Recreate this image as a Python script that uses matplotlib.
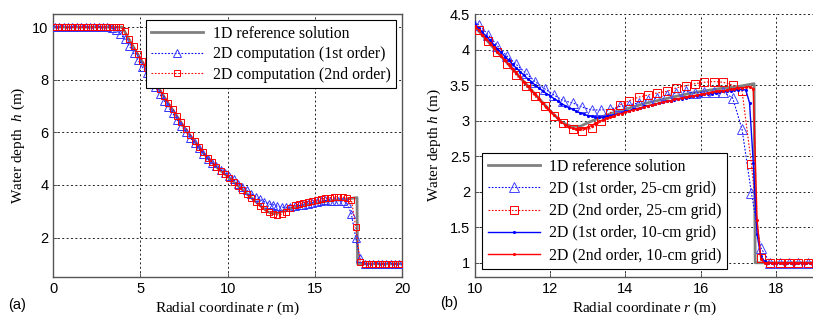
import numpy as np
import matplotlib
matplotlib.use("Agg")
import matplotlib.pyplot as plt
from matplotlib.ticker import FormatStrFormatter

plt.rcParams['mathtext.fontset'] = 'custom'
plt.rcParams['mathtext.it'] = 'Liberation Serif:italic'
plt.rcParams['mathtext.rm'] = 'Liberation Serif'

# ---------------- data ----------------
# 1D reference solution
ref_r = [0, 3.95, 4.5, 5, 5.5, 6, 6.5, 7, 7.5, 8, 8.5, 9, 9.5, 10, 10.5, 11, 11.5, 12,
         12.3, 12.55, 12.8, 13.0, 13.5, 14, 14.5, 15, 15.5, 16, 16.5, 17, 17.42, 17.45, 20]
ref_h = [10, 10, 9.35, 8.8, 8.25, 7.72, 7.2, 6.7, 6.2, 5.75, 5.3, 4.92, 4.6, 4.32, 4.02, 3.73, 3.43, 3.14,
         2.98, 2.92, 2.92, 2.97, 3.08, 3.16, 3.24, 3.3, 3.36, 3.41, 3.45, 3.48, 3.52, 1.0, 1.0]

# 25-cm grid sample positions
r25 = [0.1, 0.35, 0.6, 0.85, 1.1, 1.35, 1.6, 1.85, 2.1, 2.35, 2.6, 2.85, 3.1, 3.35, 3.6, 3.85,
       4.1, 4.35, 4.6, 4.85, 5.1, 5.35, 5.6, 5.85, 6.1, 6.35, 6.6, 6.85, 7.1, 7.35, 7.6, 7.85,
       8.1, 8.35, 8.6, 8.85, 9.1, 9.35, 9.6, 9.85, 10.1, 10.35, 10.6, 10.85, 11.1, 11.35, 11.6, 11.85,
       12.1, 12.35, 12.6, 12.85, 13.1, 13.35, 13.6, 13.85, 14.1, 14.35, 14.6, 14.85, 15.1, 15.35, 15.6, 15.85,
       16.1, 16.35, 16.6, 16.85, 17.1, 17.35, 17.6, 17.85, 18.1, 18.35, 18.6, 18.85, 19.1, 19.35, 19.6, 19.85]
# 2D 1st order, 25-cm grid
h1_25 = [10.0, 10.0, 10.0, 10.0, 10.0, 10.0, 10.0, 10.0, 10.0, 10.0, 10.0, 10.0, 10.0, 9.95, 9.88, 9.74,
         9.55, 9.3, 9.02, 8.76, 8.5, 8.24, 7.97, 7.71, 7.46, 7.21, 6.96, 6.72, 6.48, 6.25, 6.02, 5.8,
         5.59, 5.39, 5.19, 5.0, 4.84, 4.71, 4.58, 4.47, 4.35, 4.21, 4.05, 3.91, 3.79, 3.67, 3.55, 3.45,
         3.36, 3.28, 3.25, 3.19, 3.15, 3.15, 3.16, 3.20, 3.22, 3.25, 3.29, 3.32, 3.36, 3.39, 3.41, 3.39,
         3.40, 3.40, 3.40, 3.32, 2.88, 1.98, 1.21, 1.0, 1.0, 1.0, 1.0, 1.0, 1.0, 1.0, 1.0, 1.0]
# 2D 2nd order, 25-cm grid
h2_25 = [10.0, 10.0, 10.0, 10.0, 10.0, 10.0, 10.0, 10.0, 10.0, 10.0, 10.0, 10.0, 10.0, 10.0, 10.0, 10.0,
         9.86, 9.56, 9.27, 8.99, 8.72, 8.45, 8.18, 7.91, 7.65, 7.39, 7.13, 6.88, 6.63, 6.38, 6.14, 5.91,
         5.68, 5.46, 5.24, 5.04, 4.86, 4.69, 4.53, 4.4, 4.28, 4.12, 3.96, 3.80, 3.64, 3.49, 3.34, 3.20,
         3.07, 2.96, 2.88, 2.86, 2.89, 2.99, 3.11, 3.22, 3.28, 3.33, 3.36, 3.39, 3.41, 3.46, 3.49, 3.52,
         3.54, 3.55, 3.54, 3.50, 3.42, 2.39, 1.07, 1.0, 1.0, 1.0, 1.0, 1.0, 1.0, 1.0, 1.0, 1.0]

# 10-cm grid sample positions (panel b)
r10 = [10.0, 10.1, 10.2, 10.3, 10.4, 10.5, 10.6, 10.7, 10.8, 10.9, 11.0, 11.1, 11.2, 11.3, 11.4, 11.5,
       11.6, 11.7, 11.8, 11.9, 12.0, 12.1, 12.2, 12.3, 12.4, 12.5, 12.6, 12.7, 12.8, 12.9, 13.0, 13.1,
       13.2, 13.3, 13.4, 13.5, 13.6, 13.7, 13.8, 13.9, 14.0, 14.1, 14.2, 14.3, 14.4, 14.5, 14.6, 14.7,
       14.8, 14.9, 15.0, 15.1, 15.2, 15.3, 15.4, 15.5, 15.6, 15.7, 15.8, 15.9, 16.0, 16.1, 16.2, 16.3,
       16.4, 16.5, 16.6, 16.7, 16.8, 16.9, 17.0, 17.1, 17.2, 17.3, 17.4, 17.5, 17.6, 17.7, 17.8, 17.9,
       18.0, 18.1, 18.2, 18.3, 18.4, 18.5, 18.6, 18.7, 18.8, 18.9, 19.0]
h1_10 = [4.36, 4.30, 4.24, 4.19, 4.13, 4.07, 4.01, 3.96, 3.90, 3.85, 3.79, 3.74, 3.69, 3.64, 3.59, 3.55,
         3.50, 3.46, 3.42, 3.38, 3.35, 3.31, 3.28, 3.24, 3.21, 3.18, 3.16, 3.13, 3.11, 3.09, 3.07, 3.06,
         3.05, 3.05, 3.05, 3.06, 3.07, 3.08, 3.10, 3.11, 3.13, 3.14, 3.16, 3.17, 3.18, 3.20, 3.21, 3.22,
         3.23, 3.25, 3.26, 3.27, 3.28, 3.29, 3.30, 3.31, 3.32, 3.33, 3.34, 3.35, 3.36, 3.37, 3.38, 3.38,
         3.39, 3.40, 3.41, 3.41, 3.42, 3.43, 3.43, 3.44, 3.43, 3.25, 2.40, 1.40, 1.09, 1.02, 1.0, 1.0,
         1.0, 1.0, 1.0, 1.0, 1.0, 1.0, 1.0, 1.0, 1.0, 1.0, 1.0]
h2_10 = [4.33, 4.27, 4.21, 4.15, 4.09, 4.03, 3.97, 3.91, 3.85, 3.79, 3.73, 3.67, 3.61, 3.55, 3.49, 3.43,
         3.37, 3.31, 3.25, 3.19, 3.13, 3.08, 3.03, 2.98, 2.94, 2.91, 2.89, 2.88, 2.88, 2.89, 2.91, 2.93,
         2.96, 2.99, 3.01, 3.03, 3.05, 3.07, 3.09, 3.10, 3.12, 3.13, 3.15, 3.16, 3.18, 3.19, 3.21, 3.22,
         3.23, 3.25, 3.26, 3.27, 3.28, 3.30, 3.31, 3.32, 3.33, 3.34, 3.35, 3.36, 3.37, 3.38, 3.39, 3.40,
         3.41, 3.42, 3.42, 3.43, 3.44, 3.45, 3.46, 3.46, 3.47, 3.48, 3.45, 1.60, 1.05, 1.0, 1.0, 1.0,
         1.0, 1.0, 1.0, 1.0, 1.0, 1.0, 1.0, 1.0, 1.0, 1.0, 1.0]

# ---------------- figure ----------------
W, H = 813, 322
fig = plt.figure(figsize=(W / 100, H / 100), dpi=100)

SERIF = 'Liberation Serif'
SANS = 'Liberation Sans'
GRAY = '#808080'
BLUE = '#0000ff'
RED = '#ff0000'

def style_axes(ax):
    ax.grid(True, color='#222222', linestyle=(0, (2, 2.5)), linewidth=0.7)
    ax.set_axisbelow(True)
    for s in ax.spines.values():
        s.set_color('#555555')
        s.set_linewidth(1.0)
    ax.tick_params(direction='in', length=3, width=0.7, colors='#555555',
                   labelcolor='black', labelsize=10.5)
    for lab in ax.get_xticklabels() + ax.get_yticklabels():
        lab.set_fontfamily(SANS)

# ---- panel (a)
axa = fig.add_axes([53.3 / W, 1 - 277 / H, (402 - 53.3) / W, (277 - 14) / H])
axa.plot(ref_r, ref_h, color=GRAY, lw=2.0, label='1D reference solution', zorder=2)
axa.plot(r25, h1_25, color=BLUE, ls=(0, (1.5, 1.5)), lw=0.8, marker='^', ms=5.5,
         mfc='none', mec='#3333ff', mew=0.7, label='2D computation (1st order)', zorder=3)
axa.plot(r25, h2_25, color=RED, ls=(0, (1.5, 1.5)), lw=0.8, marker='s', ms=5.0,
         mfc='none', mec=RED, mew=0.7, label='2D computation (2nd order)', zorder=4)
axa.set_xlim(0, 20)
axa.set_ylim(0.5, 10.5)
axa.set_xticks([0, 5, 10, 15, 20])
axa.set_yticks([2, 4, 6, 8, 10])
style_axes(axa)
axa.set_xlabel('Radial coordinate $r$ (m)', family=SERIF, fontsize=11, labelpad=3)
axa.set_ylabel('Water depth  $h$ (m)', family=SERIF, fontsize=11, labelpad=4)
lga = axa.legend(loc='upper right', bbox_to_anchor=(0.983, 0.977), prop={'family': SERIF, 'size': 11.3},
                 frameon=True, fancybox=False, edgecolor='black', framealpha=1,
                 handlelength=3.3, numpoints=1, borderpad=0.35, labelspacing=0.3,
                 handletextpad=0.6, borderaxespad=0)
lga.get_frame().set_linewidth(0.8)
fig.text(8 / W, 1 - 305 / H, '(a)', family=SANS, fontsize=10.5, va='center')

# ---- panel (b)
axb = fig.add_axes([474.9 / W, 1 - 277 / H, (813.5 - 474.9) / W, (277 - 14) / H])
axb.plot(ref_r, ref_h, color=GRAY, lw=2.0, label='1D reference solution', zorder=2)
axb.plot(r25, h1_25, color=BLUE, ls=(0, (1.5, 1.5)), lw=0.8, marker='^', ms=7.5,
         mfc='none', mec='#4444ff', mew=0.7, label='2D (1st order, 25-cm grid)', zorder=3)
axb.plot(r25, h2_25, color=RED, ls=(0, (1.5, 1.5)), lw=0.8, marker='s', ms=5.5,
         mfc='none', mec=RED, mew=0.7, label='2D (2nd order, 25-cm grid)', zorder=4)
axb.plot(r10, h1_10, color=BLUE, ls='-', lw=1.0, marker='.', ms=2.5,
         label='2D (1st order, 10-cm grid)', zorder=5)
axb.plot(r10, h2_10, color=RED, ls='-', lw=1.0, marker='.', ms=2.5,
         label='2D (2nd order, 10-cm grid)', zorder=6)
axb.set_xlim(10, 19)
axb.set_ylim(0.8, 4.5)
axb.set_xticks([10, 12, 14, 16, 18])
axb.set_yticks([1, 1.5, 2, 2.5, 3, 3.5, 4, 4.5])
axb.yaxis.set_major_formatter(FormatStrFormatter('%g'))
style_axes(axb)
axb.spines['top'].set_visible(False)
axb.spines['right'].set_visible(False)
axb.set_xlabel('Radial coordinate $r$ (m)', family=SERIF, fontsize=11, labelpad=3)
axb.set_ylabel('Water depth $h$ (m)', family=SERIF, fontsize=11, labelpad=5)
lgb = axb.legend(loc='lower left', bbox_to_anchor=(0.022, 0.03), prop={'family': SERIF, 'size': 11.3},
                 frameon=True, fancybox=False, edgecolor='black', framealpha=1,
                 handlelength=3.3, numpoints=1, borderpad=0.35, labelspacing=0.4,
                 handletextpad=0.6, borderaxespad=0)
lgb.get_frame().set_linewidth(0.8)
fig.text(440 / W, 1 - 303 / H, '(b)', family=SANS, fontsize=10.5, va='center')

fig.savefig('out.png', dpi=100)
